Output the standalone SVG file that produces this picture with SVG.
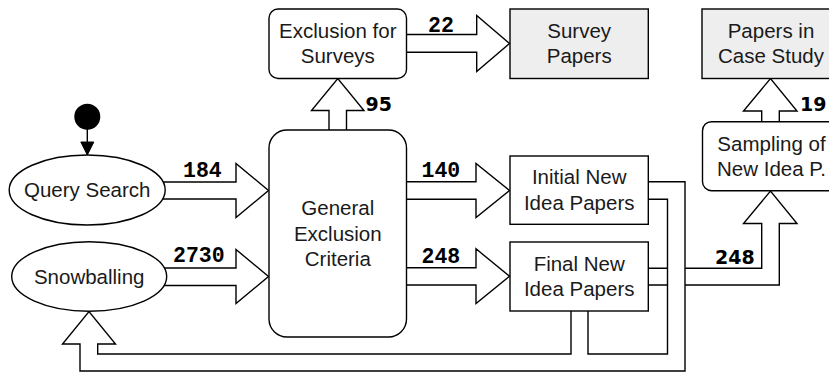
<svg xmlns="http://www.w3.org/2000/svg" width="829" height="372" viewBox="0 0 829 372">
  <style>
    .shape { fill: #ffffff; stroke: #000000; stroke-width: 1.4; stroke-linejoin: miter; }
    .result { fill: #eeeeee; stroke: #000000; stroke-width: 1.4; }
    .flow { fill: #ffffff; stroke: #000000; stroke-width: 1.4; stroke-linejoin: miter; }
    .label { font-family: "Liberation Sans", Arial, sans-serif; font-size: 20.5px; fill: #1a1a1a; text-anchor: middle; }
    .count { font-family: "Liberation Mono", "Courier New", monospace; font-size: 21.5px; font-weight: bold; fill: #000000; }
    .count2 { font-family: "DejaVu Sans", sans-serif; font-size: 19px; font-weight: bold; fill: #000000; }
  </style>

  <!-- connectors: wide block arrows carrying paper counts -->
  <g id="connectors">
    <!-- start marker to Query Search -->
    <line x1="87.3" y1="129" x2="87.3" y2="143" stroke="#000" stroke-width="1.4"/>
    <polygon points="80.8,142 93.8,142 87.3,155" fill="#000" stroke="#000" stroke-width="1"/>

    <!-- Query Search -> General Exclusion Criteria -->
    <path class="flow" d="M150,182 H236 V163.5 L268.5,190.5 L236,217.5 V199 H150"/>
    <!-- Snowballing -> General Exclusion Criteria -->
    <path class="flow" d="M150,268 H236 V249.5 L268.5,276.5 L236,303.5 V285.5 H150"/>
    <!-- General Exclusion Criteria -> Exclusion for Surveys -->
    <path class="flow" d="M329,140 V110.5 H311.5 L337.8,78.5 L364,110.5 H346.5 V140"/>
    <!-- Exclusion for Surveys -> Survey Papers -->
    <path class="flow" d="M396,34.5 H476.7 V15.5 L509.5,43.5 L476.7,71.5 V52.3 H396"/>
    <!-- General Exclusion Criteria -> Initial New Idea Papers -->
    <path class="flow" d="M396,181.8 H476 V163.5 L509.5,190.5 L476,217.5 V199.3 H396"/>
    <!-- General Exclusion Criteria -> Final New Idea Papers -->
    <path class="flow" d="M396,267.8 H476 V248.8 L509.5,276.3 L476,303.5 V285 H396"/>
    <!-- Final New Idea Papers -> Sampling of New Idea Papers -->
    <path class="flow" d="M640,268.3 H761.7 V223.5 H743.5 L770.5,191 L797,223.5 H779.3 V285 H640 Z"/>
    <!-- feedback from Initial / Final New Idea Papers back to Snowballing -->
    <path class="flow" d="M640,181.8 H685 V371 H80 V344 H62.5 L89,311.5 L115.5,344 H97.7 V354 H571 V300 H588 V354 H667.5 V199.3 H640 Z"/>
    <!-- Sampling -> Papers in Case Study -->
    <path class="flow" d="M761.7,130 V111 H743.5 L770.5,78.5 L797,111 H779.3 V130"/>

    <text class="count" x="183" y="176.7">184</text>
    <text class="count" x="173" y="262.3">2730</text>
    <text class="count" x="421.5" y="176.7">140</text>
    <text class="count" x="421.5" y="262.7">248</text>
    <text class="count" x="428" y="31.7">22</text>
    <text class="count2" x="365.5" y="111">95</text>
    <text class="count2" x="800" y="111">19</text>
    <text class="count2" x="715" y="264">248</text>
  </g>

  <g id="start">
    <circle cx="87.3" cy="116.7" r="13" fill="#000"/>
  </g>

  <g id="query-search">
    <ellipse class="shape" cx="87.2" cy="190" rx="78" ry="35"/>
    <text class="label" x="87.2" y="197">Query Search</text>
  </g>

  <g id="snowballing">
    <ellipse class="shape" cx="89.2" cy="276.5" rx="77.5" ry="34.7"/>
    <text class="label" x="89.2" y="283.5">Snowballing</text>
  </g>

  <g id="general-exclusion">
    <rect class="shape" x="269" y="130" width="137.5" height="207" rx="18" ry="18"/>
    <text class="label" x="337.8" y="215">General</text>
    <text class="label" x="337.8" y="240.6">Exclusion</text>
    <text class="label" x="337.8" y="266.2">Criteria</text>
  </g>

  <g id="exclusion-surveys">
    <rect class="shape" x="269" y="9" width="137.5" height="69.5" rx="9" ry="9"/>
    <text class="label" x="337.8" y="37.7">Exclusion for</text>
    <text class="label" x="337.8" y="63.3">Surveys</text>
  </g>

  <g id="survey-papers">
    <rect class="result" x="510" y="9" width="138.3" height="69.5"/>
    <text class="label" x="579.2" y="37.7">Survey</text>
    <text class="label" x="579.2" y="63.3">Papers</text>
  </g>

  <g id="initial-new-idea">
    <rect class="shape" x="510" y="156" width="138.3" height="68.3"/>
    <text class="label" x="579.2" y="184.2">Initial New</text>
    <text class="label" x="579.2" y="209.8">Idea Papers</text>
  </g>

  <g id="final-new-idea">
    <rect class="shape" x="510" y="242" width="138.3" height="69"/>
    <text class="label" x="579.2" y="270.7">Final New</text>
    <text class="label" x="579.2" y="296.3">Idea Papers</text>
  </g>

  <g id="sampling">
    <rect class="shape" x="702.5" y="121.7" width="138" height="69" rx="9" ry="9"/>
    <text class="label" x="771.5" y="150.8">Sampling of</text>
    <text class="label" x="771.5" y="176.4">New Idea P.</text>
  </g>

  <g id="case-study">
    <rect class="result" x="702" y="9" width="138" height="69.5"/>
    <text class="label" x="771" y="37.7">Papers in</text>
    <text class="label" x="771" y="63.3">Case Study</text>
  </g>
</svg>
